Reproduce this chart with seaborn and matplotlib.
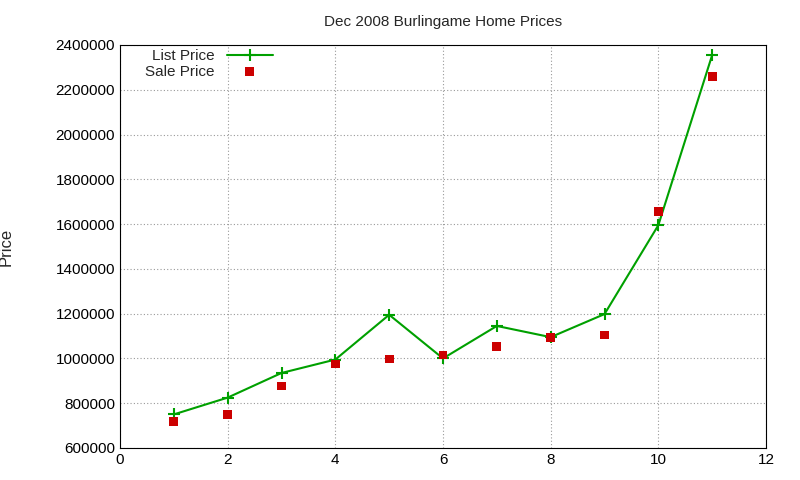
import matplotlib
matplotlib.use("Agg")
import matplotlib.pyplot as plt
import seaborn as sns
import pandas as pd

x = [1, 2, 3, 4, 5, 6, 7, 8, 9, 10, 11]
list_price = [750000, 825000, 935000, 995000, 1195000, 1000000, 1145000, 1095000, 1198000, 1595000, 2355000]
sale_price = [720000, 748000, 877000, 975000, 997000, 1015000, 1055000, 1095000, 1105000, 1655000, 2260000]

sns.set_style("white")
plt.rcParams['font.family'] = ['Liberation Sans', 'DejaVu Sans']

df = pd.DataFrame({"x": x, "list": list_price, "sale": sale_price})
fig = plt.figure(figsize=(8, 4.8), dpi=100)
ax = fig.add_axes([0.15, 0.0667, 0.8075, 0.8396])
sns.lineplot(data=df, x="x", y="list", ax=ax, color="#00a000", marker="+", markersize=8,
             markeredgewidth=1.5, markeredgecolor="#00a000", linewidth=1.5, label="List Price")
sns.scatterplot(data=df, x="x", y="sale", ax=ax, color="#cc0000", marker="s", s=40,
                edgecolor="none", label="Sale Price", zorder=3)
ax.set_xlim(0, 12)
ax.set_ylim(600000, 2400000)
ax.set_xticks(range(0, 13, 2))
ax.set_yticks(range(600000, 2400001, 200000))
ax.ticklabel_format(style="plain", axis="y")
ax.grid(True, linestyle=(0, (1, 2)), color="#999999", linewidth=0.8)
for s in ax.spines.values():
    s.set_color("black"); s.set_linewidth(0.8)
ax.tick_params(direction="in", length=5, labelsize=11, colors="black")
ax.set_xlabel("")
ax.set_ylabel("Price", fontsize=12, labelpad=30)
ax.set_title("Dec 2008 Burlingame Home Prices", fontsize=11, pad=14)
ax.legend(loc="upper left", frameon=False, markerfirst=False, fontsize=11,
          bbox_to_anchor=(0.02, 1.02), handlelength=3, borderpad=0.3, labelspacing=0.1)
fig.savefig("out.png", dpi=100)
